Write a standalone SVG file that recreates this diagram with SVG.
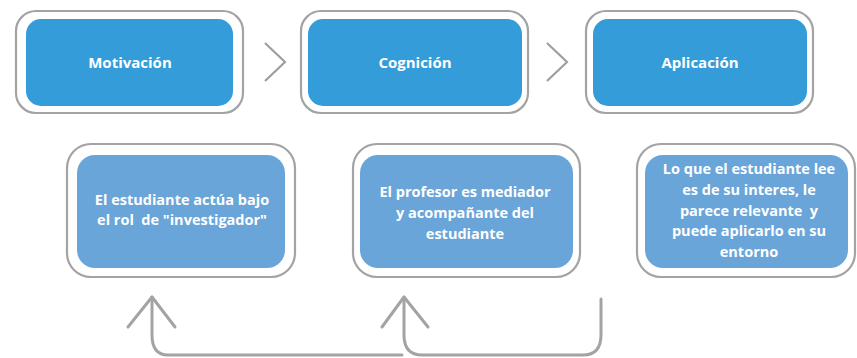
<svg xmlns="http://www.w3.org/2000/svg" width="857" height="358" viewBox="0 0 857 358">
<style>
.outer{fill:#fff;stroke:#a3a3a3;stroke-width:2.2}
.top{fill:#339cd9}
.bot{fill:#6aa5d9}
.t{font-family:"Open Sans","Liberation Sans",sans-serif;font-weight:700;fill:#fff;text-anchor:middle;white-space:pre}
.tt{font-size:15px}
.bt{font-size:14.5px}
.con{fill:none;stroke:#a3a3a3;stroke-width:3;stroke-linecap:round;stroke-linejoin:round}
.chev{fill:none;stroke:#9e9e9e;stroke-width:2.2}
</style>
<rect width="857" height="358" fill="#fff"/>
<g id="motivacion">
<rect class="outer" x="16" y="11" width="227" height="102" rx="20"/>
<rect class="top" x="26" y="19" width="207" height="87" rx="15"/>
<text class="t tt" x="130" y="68">Motivación</text>
</g>
<g id="cognicion">
<rect class="outer" x="301" y="11" width="227" height="102" rx="20"/>
<rect class="top" x="308" y="19" width="214" height="87" rx="15"/>
<text class="t tt" x="415" y="68">Cognición</text>
</g>
<g id="aplicacion">
<rect class="outer" x="586" y="11" width="227" height="102" rx="20"/>
<rect class="top" x="593" y="19" width="214" height="87" rx="15"/>
<text class="t tt" x="700" y="68">Aplicación</text>
</g>
<g id="investigador">
<rect class="outer" x="67" y="144" width="228" height="133" rx="24"/>
<rect class="bot" x="77" y="155" width="208" height="113" rx="18"/>
<text class="t bt" x="182" y="205">El estudiante actúa bajo</text>
<text class="t bt" x="182" y="225">el rol  de "investigador"</text>
</g>
<g id="profesor">
<rect class="outer" x="353" y="144" width="227" height="133" rx="24"/>
<rect class="bot" x="360" y="155" width="213" height="113" rx="18"/>
<text class="t bt" x="465" y="197">El profesor es mediador</text>
<text class="t bt" x="465" y="218">y acompañante del</text>
<text class="t bt" x="465" y="239">estudiante</text>
</g>
<g id="entorno">
<rect class="outer" x="637" y="144" width="218" height="133" rx="24"/>
<rect class="bot" x="645" y="155" width="203" height="113" rx="18"/>
<text class="t bt" x="749" y="174">Lo que el estudiante lee</text>
<text class="t bt" x="749" y="195">es de su interes, le</text>
<text class="t bt" x="749" y="216">parece relevante  y</text>
<text class="t bt" x="749" y="236">puede aplicarlo en su</text>
<text class="t bt" x="749" y="257">entorno</text>
</g>
<g id="connectors">
<polyline class="chev" points="265,43 285,62 265,81"/>
<polyline class="chev" points="547,43 567,62 547,81"/>
<path class="con" d="M402,355 H168 Q152,355 152,335 V297"/>
<polyline class="con" points="128,327 152,297 175,327"/>
<path class="con" d="M601,299 V335 Q601,355 583,355 H422 Q404,355 404,335 V297"/>
<polyline class="con" points="382,327 404,297 428,327"/>
</g>
</svg>
